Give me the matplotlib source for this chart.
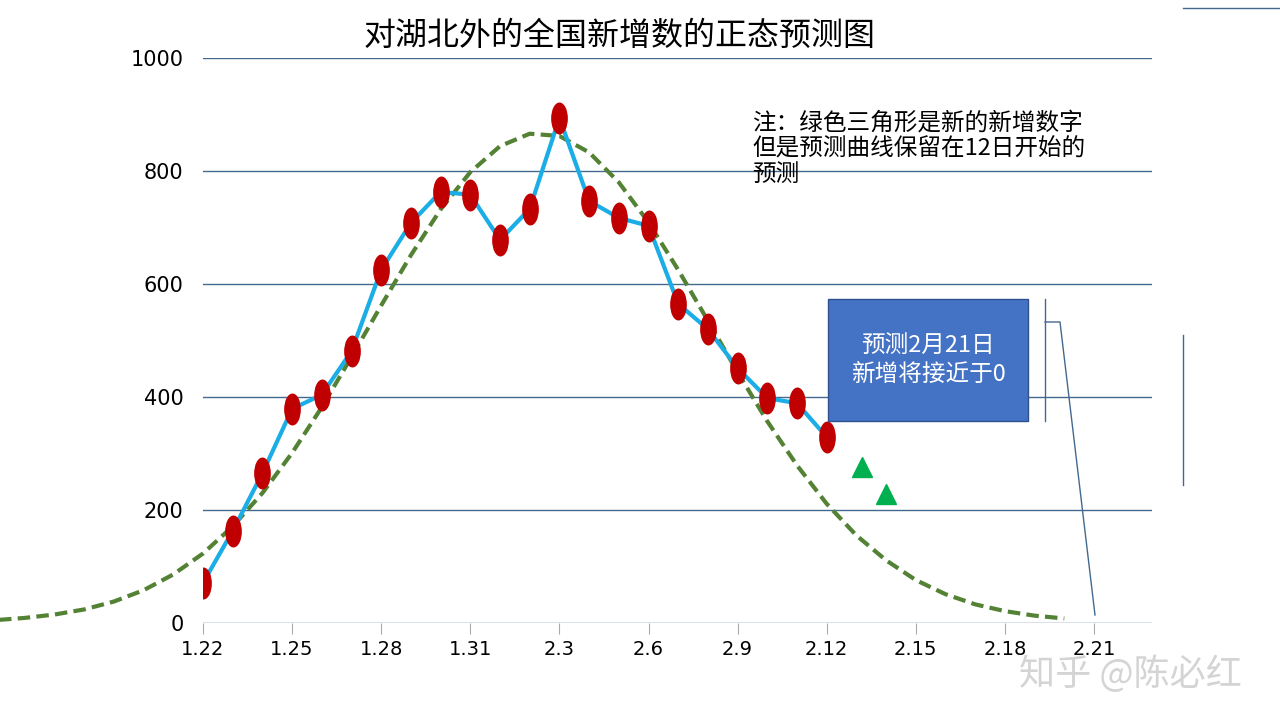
import matplotlib
matplotlib.use("Agg")
import matplotlib.pyplot as plt
from matplotlib.path import Path
from matplotlib.transforms import Affine2D
from matplotlib.lines import Line2D
from matplotlib.patches import Rectangle

plt.rcParams['font.family'] = ['Noto Sans CJK SC', 'DejaVu Sans']

title = "对湖北外的全国新增数的正态预测图"
tick_days = [0, 3, 6, 9, 12, 15, 18, 21, 24, 27, 30]
tick_labels = ["1.22", "1.25", "1.28", "1.31", "2.3", "2.6", "2.9", "2.12", "2.15", "2.18", "2.21"]
actual_days = list(range(0, 22))
actual_vals = [71, 163, 265, 379, 404, 481, 625, 708, 763, 758, 678, 733, 894,
               747, 717, 703, 565, 520, 451, 398, 389, 329]
new_days = [22.2, 23.0]
new_vals = [276, 228]
curve_days = list(range(-7, 30))
curve_vals = [5, 9, 15, 24, 38, 58, 86, 123, 171, 230, 301, 382, 471, 562, 651, 732,
              798, 844, 866, 862, 833, 780, 709, 625, 535, 444, 357, 279, 211, 155,
              111, 76, 51, 33, 21, 13, 8]
note = "注：绿色三角形是新的新增数字\n但是预测曲线保留在12日开始的\n预测"
box_text = "预测2月21日\n新增将接近于0"

fig = plt.figure(figsize=(12.8, 7.2), dpi=100)
ax = fig.add_axes([203/1280, 1-623/720, (1152-203)/1280, (623-58)/720])
ax.set_xlim(0, (1152-203)/29.7)
ax.set_ylim(0, 1000)
for s in ax.spines.values():
    s.set_visible(False)
ax.set_yticks([0, 200, 400, 600, 800, 1000])
ax.yaxis.grid(True, color='#44698f', lw=1)
ax.set_axisbelow(True)
ax.tick_params(axis='y', length=0, labelsize=15, pad=14)
ax.set_xticks(tick_days)
ax.set_xticklabels(tick_labels, fontsize=14, family='DejaVu Sans')
ax.tick_params(axis='x', length=8, color='#aaaaaa', direction='out', pad=4)
for lab in ax.get_yticklabels():
    lab.set_family('DejaVu Sans')

ax.plot(curve_days, curve_vals, color='#548235', lw=3, ls=(0, (3, 1.5)), clip_on=False, zorder=2)
ellipse = Path.unit_circle().transformed(Affine2D().scale(0.5, 1.0))
ax.plot(actual_days, actual_vals, color='#1AADE6', lw=3, zorder=3)
ax.plot(actual_days, actual_vals, ls='none', marker=ellipse, ms=22, color='#C00000', zorder=4)
ax.plot(new_days, new_vals, ls='none', marker='^', ms=15, color='#00B050', zorder=4)

fig.text(620/1280, 1-36/720, title, ha='center', va='center', fontsize=23)
fig.text(752/1280, 1-112/720, note, ha='left', va='top', fontsize=17, linespacing=1.15)
fig.patches.append(Rectangle((828/1280, 1-421/720), 200/1280, 122/720, transform=fig.transFigure,
                             facecolor='#4472C4', edgecolor='#2F528F', lw=1))
fig.text(928/1280, 1-360/720, box_text, ha='center', va='center', fontsize=17, color='white', linespacing=1.3)
lc = '#44698f'
for xs, ys in [([1045, 1045], [299, 421]), ([1045, 1060, 1095], [322, 322, 615]),
               ([1183, 1280], [8, 8]), ([1183, 1183], [335, 485])]:
    fig.add_artist(Line2D([x/1280 for x in xs], [1-y/720 for y in ys], color=lc, lw=1))
fig.text(1130/1280, 1-674/720, "知乎 @陈必红", ha='center', va='center', fontsize=26,
         color='#d0d0d0', alpha=0.9)
fig.savefig("out.png", dpi=100)
